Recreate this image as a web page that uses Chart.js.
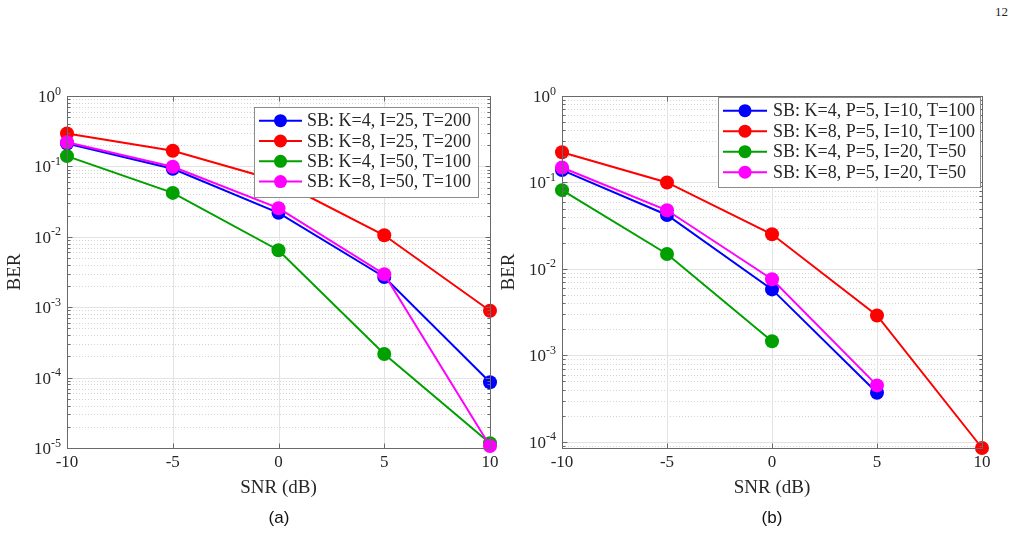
<!DOCTYPE html>
<html><head><meta charset="utf-8">
<script src="https://cdn.jsdelivr.net/npm/chart.js@4.4.1/dist/chart.umd.min.js"></script>
<style>
html,body{margin:0;padding:0;background:#fff;width:1019px;height:533px;overflow:hidden;position:relative;}
.cw{position:absolute;top:0;height:533px;}
#wa{left:0;width:505px;}
#wb{left:495px;width:524px;}
.cap{position:absolute;top:508px;font-family:"Liberation Sans",Arial,sans-serif;font-size:17px;color:#111;transform:translateX(-50%);}
#pg{position:absolute;left:995px;top:4px;font-family:"Liberation Serif","Times New Roman",serif;font-size:13px;color:#222;}
</style>
</head><body>
<div id="pg">12</div>
<div class="cw" id="wa"><canvas id="ca" width="505" height="533"></canvas></div>
<div class="cw" id="wb"><canvas id="cb" width="524" height="533"></canvas></div>
<div class="cap" style="left:279px">(a)</div>
<div class="cap" style="left:772px">(b)</div>
<script>
// ---- data ----
const snr = [-10, -5, 0, 5, 10];
const xTicks = [-10, -5, 0, 5, 10];
const xTitle = 'SNR (dB)';
const yTitle = 'BER';
const seriesColors = ['#0000ff', '#ff0000', '#00a000', '#ff00ff'];

const labelsA = ['SB: K=4, I=25, T=200', 'SB: K=8, I=25, T=200', 'SB: K=4, I=50, T=100', 'SB: K=8, I=50, T=100'];
const berA_K4_I25 = [0.212, 0.0925, 0.0219, 0.00269, 8.6e-5];
const berA_K8_I25 = [0.294, 0.167, 0.062, 0.0105, 8.9e-4];
const berA_K4_I50 = [0.14, 0.042, 0.00645, 2.16e-4, 1.17e-5];
const berA_K8_I50 = [0.22, 0.099, 0.0255, 0.00294, 1.07e-5];
const yRangeA = [1e-5, 1];

const labelsB = ['SB: K=4, P=5, I=10, T=100', 'SB: K=8, P=5, I=10, T=100', 'SB: K=4, P=5, I=20, T=50', 'SB: K=8, P=5, I=20, T=50'];
const berB_K4_I10 = [0.139, 0.0421, 0.0058, 3.7e-4, null];
const berB_K8_I10 = [0.224, 0.1, 0.0252, 0.0029, 8.5e-5];
const berB_K4_I20 = [0.0815, 0.0149, 0.00146, null, null];
const berB_K8_I20 = [0.149, 0.0477, 0.0076, 4.5e-4, null];
const yRangeB = [8.5e-5, 1];

// ---- drawing helpers (MATLAB-like axes) ----
const SERIF = '"Liberation Serif","Times New Roman",serif';
const matlabAxes = {
  id: 'matlabAxes',
  beforeDatasetsDraw(chart) {
    const ctx = chart.ctx, ca = chart.chartArea, ys = chart.scales.y, xs = chart.scales.x;
    ctx.save();
    ctx.lineWidth = 1;
    const lo = Math.floor(Math.log10(ys.min) - 1e-9), hi = Math.ceil(Math.log10(ys.max) + 1e-9);
    ctx.strokeStyle = '#d4d4d4';
    ctx.setLineDash([1, 2]);
    for (let e = lo; e < hi; e++) {
      for (let k = 2; k <= 9; k++) {
        const v = k * Math.pow(10, e);
        if (v <= ys.min || v >= ys.max) continue;
        const py = Math.round(ys.getPixelForValue(v)) + 0.5;
        ctx.beginPath(); ctx.moveTo(ca.left, py); ctx.lineTo(ca.right, py); ctx.stroke();
      }
    }
    ctx.setLineDash([]);
    ctx.strokeStyle = '#e3e3e3';
    for (let e = lo; e <= hi; e++) {
      const v = Math.pow(10, e);
      if (v <= ys.min || v >= ys.max) continue;
      const py = Math.round(ys.getPixelForValue(v)) + 0.5;
      ctx.beginPath(); ctx.moveTo(ca.left, py); ctx.lineTo(ca.right, py); ctx.stroke();
    }
    xTicks.forEach(t => {
      if (t <= xs.min || t >= xs.max) return;
      const px = Math.round(xs.getPixelForValue(t)) + 0.5;
      ctx.beginPath(); ctx.moveTo(px, ca.top); ctx.lineTo(px, ca.bottom); ctx.stroke();
    });
    ctx.restore();
  },
  afterDatasetsDraw(chart) {
    const ctx = chart.ctx, ca = chart.chartArea, ys = chart.scales.y, xs = chart.scales.x;
    ctx.save();
    ctx.strokeStyle = '#6a6a6a';
    ctx.lineWidth = 1;
    const L = Math.round(ca.left) + 0.5, R = Math.round(ca.right) + 0.5, T = Math.round(ca.top) + 0.5, B = Math.round(ca.bottom) + 0.5;
    ctx.strokeRect(L, T, R - L, B - T);
    const lo = Math.floor(Math.log10(ys.min) - 1e-9), hi = Math.ceil(Math.log10(ys.max) + 1e-9);
    ctx.beginPath();
    for (let e = lo; e <= hi; e++) {
      for (let k = 1; k <= 9; k++) {
        const v = k * Math.pow(10, e);
        if (v < ys.min || v > ys.max) continue;
        const py = Math.round(ys.getPixelForValue(v)) + 0.5;
        const len = k === 1 ? 5 : 3;
        ctx.moveTo(L, py); ctx.lineTo(L + len, py);
        ctx.moveTo(R, py); ctx.lineTo(R - len, py);
      }
    }
    xTicks.forEach(t => {
      const px = Math.round(xs.getPixelForValue(t)) + 0.5;
      ctx.moveTo(px, B); ctx.lineTo(px, B - 5);
      ctx.moveTo(px, T); ctx.lineTo(px, T + 5);
    });
    ctx.stroke();
    // y tick labels 10^e
    ctx.fillStyle = '#262626';
    for (let e = lo; e <= hi; e++) {
      const v = Math.pow(10, e);
      if (v < ys.min * 0.999 || v > ys.max * 1.001) continue;
      const py = ys.getPixelForValue(v);
      ctx.font = '12px ' + SERIF;
      const exp = String(e);
      const we = ctx.measureText(exp).width;
      ctx.font = '17px ' + SERIF;
      const wb = ctx.measureText('10').width;
      const right = ca.left - 6;
      ctx.textAlign = 'left'; ctx.textBaseline = 'alphabetic';
      ctx.fillText('10', right - we - wb, py + 6);
      ctx.font = '12px ' + SERIF;
      ctx.fillText(exp, right - we, py - 1.5);
    }
    // legend
    const lg = chart.options.plugins.matlabAxes.legend;
    ctx.fillStyle = '#ffffff';
    ctx.fillRect(lg.x, lg.y, lg.w, lg.h);
    ctx.strokeStyle = '#8c8c8c';
    ctx.strokeRect(lg.x + 0.5, lg.y + 0.5, lg.w, lg.h);
    chart.data.datasets.forEach((ds, i) => {
      const cy = lg.y + lg.first + i * lg.row;
      ctx.strokeStyle = ds.borderColor; ctx.lineWidth = 2;
      ctx.beginPath(); ctx.moveTo(lg.s1, cy); ctx.lineTo(lg.s2, cy); ctx.stroke();
      ctx.fillStyle = ds.backgroundColor;
      ctx.beginPath(); ctx.arc((lg.s1 + lg.s2) / 2, cy, 6.5, 0, Math.PI * 2); ctx.fill();
      ctx.fillStyle = '#262626';
      ctx.font = '18px ' + SERIF;
      ctx.textAlign = 'left'; ctx.textBaseline = 'middle';
      ctx.fillText(ds.label, lg.tx, cy + 1);
    });
    ctx.restore();
  }
};

function makeDatasets(labels, arrays) {
  return arrays.map((arr, i) => ({
    label: labels[i],
    data: snr.map((x, j) => ({ x: x, y: arr[j] })),
    borderColor: seriesColors[i],
    backgroundColor: seriesColors[i],
    borderWidth: 2,
    pointRadius: 7,
    pointHoverRadius: 7,
    pointBorderWidth: 0,
    pointBackgroundColor: seriesColors[i],
    tension: 0,
    clip: false,
    spanGaps: false,
    order: 3 - i
  }));
}

function makeChart(id, labels, arrays, yRange, padRight, yTitlePad, legend) {
  return new Chart(document.getElementById(id), {
    type: 'line',
    data: { datasets: makeDatasets(labels, arrays) },
    plugins: [matlabAxes],
    options: {
      responsive: false,
      animation: false,
      devicePixelRatio: 1,
      events: [],
      layout: { padding: { top: 96, right: padRight, left: 0, bottom: 0 } },
      plugins: { legend: { display: false }, tooltip: { enabled: false }, matlabAxes: { legend: legend } },
      scales: {
        x: {
          type: 'linear', min: -10, max: 10,
          afterBuildTicks: s => { s.ticks = xTicks.map(v => ({ value: v })); },
          afterFit: s => { s.height = 85; },
          grid: { display: false, drawTicks: false }, border: { display: false },
          ticks: { color: '#262626', font: { family: SERIF, size: 17 }, padding: 4, maxRotation: 0, autoSkip: false },
          title: { display: true, text: xTitle, color: '#262626', font: { family: SERIF, size: 19 }, padding: { top: 0, bottom: 33.6 } }
        },
        y: {
          type: 'logarithmic', min: yRange[0], max: yRange[1],
          afterFit: s => { s.width = 67; },
          grid: { display: false }, border: { display: false },
          ticks: { display: false },
          title: { display: true, text: yTitle, color: '#262626', font: { family: SERIF, size: 19 }, padding: { top: yTitlePad, bottom: 0 } }
        }
      }
    }
  });
}

makeChart('ca', labelsA, [berA_K4_I25, berA_K8_I25, berA_K4_I50, berA_K8_I50], yRangeA, 15, 4,
  { x: 254, y: 107, w: 224, h: 90, first: 13.7, row: 20.3, s1: 259, s2: 302, tx: 307 });
makeChart('cb', labelsB, [berB_K4_I10, berB_K8_I10, berB_K4_I20, berB_K8_I20], yRangeB, 37, 3,
  { x: 718 - 495, y: 97, w: 262, h: 90, first: 13.7, row: 20.5, s1: 723 - 495, s2: 767 - 495, tx: 773 - 495 });
</script>
</body></html>
